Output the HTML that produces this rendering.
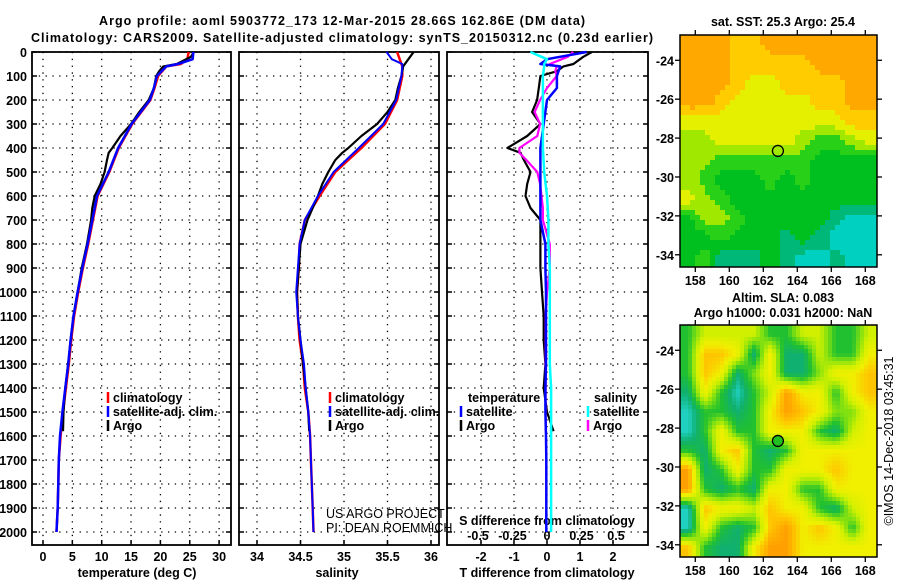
<!DOCTYPE html>
<html><head><meta charset="utf-8"><style>
body{margin:0;background:#fff;}
svg{display:block;font-family:"Liberation Sans",sans-serif;}
.b{font-weight:bold;font-size:12.5px;}
</style></head><body>
<svg id="s" width="900" height="580" viewBox="0 0 900 580" xmlns="http://www.w3.org/2000/svg">
<text x="342" y="25" text-anchor="middle" class="b" font-size="13.5" textLength="486">Argo profile: aoml 5903772_173 12-Mar-2015 28.66S 162.86E (DM data)</text>
<text x="342" y="42" text-anchor="middle" class="b" font-size="13.5" textLength="622">Climatology: CARS2009. Satellite-adjusted climatology: synTS_20150312.nc (0.23d earlier)</text>
</svg>
<script>
// ---- data ----
const depthsClim = [0,30,50,60,100,150,200,300,400,500,600,700,800,900,1000,1100,1200,1300,1400,1500,1600,1700,1800,1900,2000];
const tempClim   = [24.8,24.6,23.5,21,19.6,19,18.3,15.2,12.9,11.3,9.3,8.5,7.7,6.8,6.0,5.3,4.8,4.4,3.9,3.4,3.0,2.7,2.6,2.5,2.3];
const tempSat    = [25.6,25.5,23.0,21,19.4,18.9,18.2,15.1,12.8,11.2,9.2,8.4,7.6,6.7,5.9,5.2,4.7,4.3,3.8,3.3,2.9,2.7,2.6,2.5,2.3];
const depthsArgo = [0,20,50,60,80,100,150,200,250,300,350,400,420,450,500,550,600,650,700,800,900,1000,1100,1200,1300,1400,1500,1580];
const tempArgo   = [25.7,25.2,22.8,20.5,19.8,19.3,18.9,18.0,16.4,15.0,13.2,11.8,11.2,10.9,10.5,9.8,8.8,8.4,8.2,7.5,6.6,5.9,5.2,4.7,4.3,3.8,3.5,3.4];
const salClim    = [35.61,35.64,35.66,35.67,35.67,35.64,35.61,35.47,35.2,34.9,34.72,34.55,34.49,34.48,34.46,34.47,34.49,34.53,34.55,34.59,34.61,34.62,34.63,34.64,34.65];
const salSat     = [35.49,35.55,35.67,35.67,35.66,35.63,35.6,35.45,35.17,34.88,34.7,34.55,34.49,34.47,34.45,34.47,34.5,34.54,34.56,34.59,34.61,34.62,34.63,34.64,34.65];
const salArgo    = [35.80,35.76,35.70,35.68,35.67,35.66,35.62,35.59,35.5,35.38,35.2,35.05,34.98,34.9,34.82,34.75,34.7,34.64,34.58,34.5,34.48,34.46,34.47,34.5,34.53,34.56,34.59,34.6];
const tDiffSat   = [1.2,0.0,-0.2,0.4,0.3,0.3,0.0,-0.1,-0.2,-0.2,-0.2,-0.2,-0.05,-0.05,-0.03,-0.03,-0.03,-0.03,-0.05,-0.05,-0.03,-0.02,-0.02,-0.02,-0.02];
const sDiffSat   = [-0.12,0.0,-0.02,-0.02,-0.03,-0.03,-0.03,-0.03,-0.03,-0.02,0.0,0.01,0.01,0.02,0.02,0.02,0.02,0.02,0.03,0.03,0.03,0.03,0.03,0.03,0.03];
const tDiffArgo  = [1.36,1.1,0.8,0.5,0.3,-0.2,-0.25,-0.3,-0.45,-0.2,-0.6,-1.2,-0.8,-0.7,-0.5,-0.6,-0.65,-0.5,-0.2,-0.2,-0.2,-0.15,-0.1,-0.1,-0.05,-0.1,0.0,0.2];
const sDiffArgo  = [0.19,0.15,0.02,0.07,0.06,0.07,0.0,-0.05,-0.09,-0.05,-0.07,-0.2,-0.2,-0.15,-0.07,-0.05,-0.04,-0.03,-0.03,0.02,0.02,0.0,-0.01,-0.01,-0.01,-0.01,-0.01,-0.01];
const depthTicks = [0,100,200,300,400,500,600,700,800,900,1000,1100,1200,1300,1400,1500,1600,1700,1800,1900,2000];
const tempTicks = [0,5,10,15,20,25,30];
const salTicks = [34,34.5,35,35.5,36];
const tdTicks = [-2,-1,0,1,2];
const sdTicks = [-0.5,-0.25,0,0.25,0.5];
const lonTicks = [158,160,162,164,166,168];
const latTicks = [-24,-26,-28,-30,-32,-34];
const sstGrid = [
[7,7,7,6,6,7,7,7,7,7,7,7],[7,7,7,6,6,6,6,6,7,7,7,7],[7,7,7,6,5,5,6,6,6,6,7,7],
[7,7,6,5,5,5,5,5,6,6,7,7],[5,5,5,5,5,5,5,5,5,5,6,6],[4,4,5,5,5,5,5,4,3,3,4,5],
[4,4,3,3,3,3,3,3,2,2,2,2],[4,3,2,2,2,3,2,3,2,2,2,2],[5,4,3,2,2,2,2,2,2,2,2,2],
[2,4,4,3,2,2,2,2,2,1,0,0],[2,2,3,2,2,2,1,2,1,0,0,0],[2,3,1,1,1,2,1,0,0,1,0,0]];
const slaGrid = [
[2,4,4,4,4,2,2,4,4,2,2,4],[2,6,6,5,1,5,1,1,4,2,2,5],[2,6,5,1,3,5,1,1,3,5,5,6],
[1,5,2,0,2,4,7,5,5,2,5,6],[0,2,2,1,2,5,7,6,5,3,3,5],[0,2,5,2,2,5,5,5,2,1,4,5],
[2,1,5,6,2,1,2,5,5,5,5,5],[7,1,2,5,2,2,5,5,5,6,5,5],[7,2,1,2,1,5,5,2,2,5,5,5],
[0,6,5,5,4,6,5,5,2,1,4,5],[0,5,2,1,2,6,7,5,6,5,2,5],[6,2,1,1,5,7,7,5,5,5,5,5]];
const profileLon = 162.86, profileLat = -28.66;

const s = document.getElementById('s');
const NS='http://www.w3.org/2000/svg';
function mk(tag, attrs, parent){const e=document.createElementNS(NS,tag);for(const k in attrs)e.setAttribute(k,attrs[k]);(parent||s).appendChild(e);return e;}
function txt(x,y,str,anchor,cls,parent){const t=mk('text',{x:x,y:y,'text-anchor':anchor||'middle','class':cls||'b'},parent);t.textContent=str;return t;}

const Y = d => 52 + d*0.24;
const TOP=52, BOT=545;
const panels = [
 {x0:32,x1:231,sx:v=>43+v*5.87,name:'temperature'},
 {x0:239,x1:439,sx:v=>257+(v-34)*87,name:'salinity'},
 {x0:447,x1:648,sx:v=>547+v*33,name:'t-difference'}
];
const sdX = v=>547+v*138;

panels.forEach((p,i)=>{
  const g=mk('g',{});
  
  
  const ticks = i===0?tempTicks:(i===1?salTicks:tdTicks);
  depthTicks.forEach(d=>{
    const l=mk('line',{x1:p.x0,x2:p.x1,y1:Y(d),y2:Y(d),stroke:'#000','stroke-width':1.3,'stroke-dasharray':'1.3 5.5'},g);
    
    
    mk('line',{x1:p.x0,x2:p.x0+5,y1:Y(d),y2:Y(d),stroke:'#000','stroke-width':1.5},g);
    mk('line',{x1:p.x1-5,x2:p.x1,y1:Y(d),y2:Y(d),stroke:'#000','stroke-width':1.5},g);
  });
  ticks.forEach(v=>{
    const x=p.sx(v);
    const l=mk('line',{x1:x,x2:x,y1:TOP,y2:BOT,stroke:'#000','stroke-width':1.3,'stroke-dasharray':'1.3 5.5'},g);
    
    
    mk('line',{x1:x,x2:x,y1:BOT-5,y2:BOT,stroke:'#000','stroke-width':1.5},g);
    const t=txt(x,561,String(v),'middle','b',g);
    
    
  });
  const r=mk('rect',{x:p.x0,y:TOP,width:p.x1-p.x0,height:BOT-TOP,fill:'none',stroke:'#000','stroke-width':1.8},g);
  
  
});
depthTicks.forEach(d=>{
  const t=txt(27,Y(d)+5,String(d),'end');
  
  
});
let t;
t=txt(137,577,'temperature (deg C)');  
t=txt(337,577,'salinity');  
t=txt(547,577,'T difference from climatology');  
t=txt(547,525,'S difference from climatology');  
sdTicks.forEach(v=>{const e=txt(sdX(v),540,String(v));  });

function line(xs, ds, sx, color, w, name){
  const pts = xs.map((v,i)=>sx(v).toFixed(1)+','+Y(ds[i]).toFixed(1)).join(' ');
  const e=mk('polyline',{points:pts,fill:'none',stroke:color,'stroke-width':w,'stroke-linejoin':'round'});
  
  
}
line(tempClim, depthsClim, panels[0].sx, '#f00', 2.5, 'temperature-climatology-line');
line(tempArgo, depthsArgo, panels[0].sx, '#000', 2.2, 'temperature-argo-line');
line(tempSat, depthsClim, panels[0].sx, '#00f', 2.5, 'temperature-satellite-line');
line(salClim, depthsClim, panels[1].sx, '#f00', 2.5, 'salinity-climatology-line');
line(salArgo, depthsArgo, panels[1].sx, '#000', 2.2, 'salinity-argo-line');
line(salSat, depthsClim, panels[1].sx, '#00f', 2, 'salinity-satellite-line');
line(tDiffArgo, depthsArgo, panels[2].sx, '#000', 2.2, 't-diff-argo-line');
line(sDiffArgo, depthsArgo, sdX, '#f0f', 2.2, 's-diff-argo-line');
line(tDiffSat, depthsClim, panels[2].sx, '#00f', 2.5, 't-diff-satellite-line');
line(sDiffSat, depthsClim, sdX, '#0ff', 2.5, 's-diff-satellite-line');

function legend(x,y,color,label,name){
  const g=mk('g',{});
  
  
  mk('line',{x1:x,x2:x,y1:y-10,y2:y+1,stroke:color,'stroke-width':2.5},g);
  txt(x+5,y,label,'start','b',g);
}
legend(108,402,'#f00','climatology','legend-climatology');
legend(108,416,'#00f','satellite-adj. clim.','legend-satellite');
legend(108,430,'#000','Argo','legend-argo');
legend(330,402,'#f00','climatology','legend-climatology-2');
legend(330,416,'#00f','satellite-adj. clim.','legend-satellite-2');
legend(330,430,'#000','Argo','legend-argo-2');
t=txt(468,402,'temperature','start');  
t=txt(594,402,'salinity','start');  
legend(461,416,'#00f','satellite','legend-t-satellite');
legend(461,430,'#000','Argo','legend-t-argo');
legend(588,416,'#0ff','satellite','legend-s-satellite');
legend(588,430,'#f0f','Argo','legend-s-argo');
t=txt(326,518,'US ARGO PROJECT','start','r'); t.setAttribute('font-size','12.5');  
t=txt(326,532,'PI: DEAN ROEMMICH','start','r'); t.setAttribute('font-size','12.5');  

// maps
const MX0=680, MX1=877;
const lonX = v=>MX0+(v-157.1)*17;
const sstColors=[[0,208,192],[0,184,120],[0,192,32],[40,208,24],[160,232,0],[228,240,0],[255,204,0],[255,168,0]];
const slaColors=[[32,208,192],[16,176,112],[32,192,48],[128,224,16],[208,240,0],[240,240,0],[255,196,0],[255,160,0]];
function colAt(colors,v){
  v=Math.max(0,Math.min(colors.length-1,v));
  const i=Math.min(colors.length-2,Math.floor(v)), f=v-i;
  const a=colors[i], b=colors[i+1];
  return 'rgb('+a.map((c,k)=>Math.round(c+(b[k]-c)*f)).join(',')+')';
}
function sample(grid,gx,gy){
  const rows=grid.length, cols=grid[0].length;
  gx=Math.max(0,Math.min(cols-1,gx)); gy=Math.max(0,Math.min(rows-1,gy));
  const x0=Math.min(cols-2,Math.floor(gx)), y0=Math.min(rows-2,Math.floor(gy));
  const fx=gx-x0, fy=gy-y0;
  const a=grid[y0][x0], b=grid[y0][x0+1], c=grid[y0+1][x0], d=grid[y0+1][x0+1];
  return a*(1-fx)*(1-fy)+b*fx*(1-fy)+c*(1-fx)*fy+d*fx*fy;
}
function map(y0, grid, colors, name, filled, step, quant){
  const y1=y0+232;
  const latY = v=>y0+(-22.7-v)*19.45;
  const g=mk('g',{});
  
  
  const rows=grid.length, cols=grid[0].length;
  const cw=(MX1-MX0)/cols, ch=(y1-y0)/rows;
  for(let py=y0; py<y1; py+=step){
    for(let px=MX0; px<MX1; px+=step){
      const gx=(px+step/2-MX0)/cw-0.5, gy=(py+step/2-y0)/ch-0.5;
      let v=sample(grid,gx,gy);
      if(quant) v=Math.round(v);
      const e=mk('rect',{x:px,y:py,width:Math.min(step,MX1-px)+0.4,height:Math.min(step,y1-py)+0.4,fill:colAt(colors,v)},g);
      
      
    }
  }
  mk('rect',{x:MX0,y:y0,width:MX1-MX0,height:y1-y0,fill:'none',stroke:'#000','stroke-width':1.5},g);
  lonTicks.forEach(v=>{
    const x=lonX(v);
    mk('line',{x1:x,x2:x,y1:y0-5,y2:y0,stroke:'#000','stroke-width':1.3},g);
    mk('line',{x1:x,x2:x,y1:y1,y2:y1+5,stroke:'#000','stroke-width':1.3},g);
    txt(x,y1+18,String(v),'middle','b',g);
  });
  latTicks.forEach(v=>{
    const y=latY(v);
    mk('line',{x1:MX0-5,x2:MX0,y1:y,y2:y,stroke:'#000','stroke-width':1.3},g);
    mk('line',{x1:MX1,x2:MX1+5,y1:y,y2:y,stroke:'#000','stroke-width':1.3},g);
    txt(MX0-6,y+5,String(v),'end','b',g);
  });
  const c=mk('circle',{cx:lonX(profileLon),cy:latY(profileLat),r:5.5,fill:filled?'#20c020':'none',stroke:'#000','stroke-width':1.3},g);
  
  
}
map(35, sstGrid, sstColors, 'sst-map', false, 5, true);
map(325, slaGrid, slaColors, 'sla-map', true, 4, false);
t=txt(783,26,'sat. SST: 25.3 Argo: 25.4');  
t=txt(783,302,'Altim. SLA: 0.083');  
t=txt(783,317,'Argo h1000: 0.031 h2000: NaN');  
t=txt(0,0,'©IMOS 14-Dec-2018 03:45:31','middle','r');
t.setAttribute('font-size','12.5');
t.setAttribute('transform','translate(893,441) rotate(-90)');


</script>
</body></html>
